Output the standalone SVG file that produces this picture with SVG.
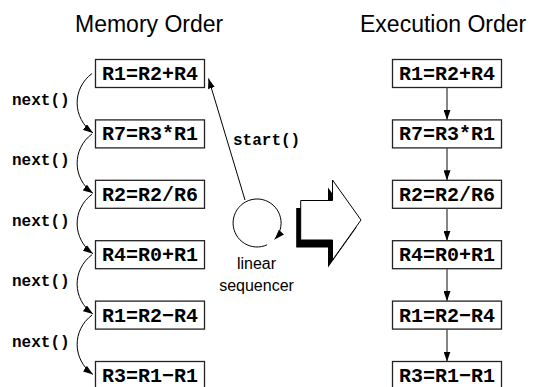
<svg xmlns="http://www.w3.org/2000/svg" width="535" height="387" viewBox="0 0 535 387">
  <defs>
    <style>
      .box { fill: #fff; stroke: #222; stroke-width: 1.3; }
      .code { font-family: "Liberation Mono", "DejaVu Sans Mono", monospace; font-weight: bold; font-size: 20px; fill: #000; text-anchor: middle; }
      .lbl { font-family: "Liberation Mono", "DejaVu Sans Mono", monospace; font-weight: bold; font-size: 16px; fill: #000; }
      .title { font-family: "Liberation Sans", Arial, sans-serif; font-size: 23px; fill: #000; }
      .sans { font-family: "Liberation Sans", Arial, sans-serif; font-size: 16px; fill: #000; text-anchor: middle; }
      .conn { fill: none; stroke: #000; stroke-width: 1; }
      .vconn { fill: none; stroke: #444; stroke-width: 1.3; }
    </style>
    <marker id="ah" viewBox="0 0 10 7" refX="10" refY="3.5" markerWidth="10" markerHeight="7" orient="auto" markerUnits="userSpaceOnUse">
      <path d="M0,0 L10,3.5 L0,7 z" fill="#000"/>
    </marker>
  </defs>
  <rect width="535" height="387" fill="#fff"/>

  <g id="titles">
    <text class="title" x="75" y="32">Memory Order</text>
    <text class="title" x="360" y="32">Execution Order</text>
  </g>

  <!-- Memory order column -->
  <g id="m1"><rect class="box" x="95.5" y="59.5" width="109" height="28"/><text class="code" x="150" y="80">R1=R2+R4</text></g>
  <g id="m2"><rect class="box" x="95.5" y="119.9" width="109" height="28"/><text class="code" x="150" y="140.4">R7=R3*R1</text></g>
  <g id="m3"><rect class="box" x="95.5" y="180.3" width="109" height="28"/><text class="code" x="150" y="200.8">R2=R2/R6</text></g>
  <g id="m4"><rect class="box" x="95.5" y="240.7" width="109" height="28"/><text class="code" x="150" y="261.2">R4=R0+R1</text></g>
  <g id="m5"><rect class="box" x="95.5" y="301.1" width="109" height="28"/><text class="code" x="150" y="321.6">R1=R2−R4</text></g>
  <g id="m6"><rect class="box" x="95.5" y="361.5" width="109" height="28"/><text class="code" x="150" y="382">R3=R1−R1</text></g>

  <!-- Execution order column -->
  <g id="e1"><rect class="box" x="392.5" y="59.5" width="109" height="28"/><text class="code" x="447" y="80">R1=R2+R4</text></g>
  <g id="e2"><rect class="box" x="392.5" y="119.9" width="109" height="28"/><text class="code" x="447" y="140.4">R7=R3*R1</text></g>
  <g id="e3"><rect class="box" x="392.5" y="180.3" width="109" height="28"/><text class="code" x="447" y="200.8">R2=R2/R6</text></g>
  <g id="e4"><rect class="box" x="392.5" y="240.7" width="109" height="28"/><text class="code" x="447" y="261.2">R4=R0+R1</text></g>
  <g id="e5"><rect class="box" x="392.5" y="301.1" width="109" height="28"/><text class="code" x="447" y="321.6">R1=R2−R4</text></g>
  <g id="e6"><rect class="box" x="392.5" y="361.5" width="109" height="28"/><text class="code" x="447" y="382">R3=R1−R1</text></g>

  <!-- Linear sequencer -->
  <g id="sequencer">
    <path class="conn" d="M267.1,244.8 A24,24 0 1 1 274.6,239.4" marker-end="url(#ah)"/>
    <text class="sans" x="256.5" y="269">linear</text>
    <text class="sans" x="256.5" y="291">sequencer</text>
  </g>

  <!-- Block arrow -->
  <g id="block-arrow">
    <polygon points="296.2,208 328,208 328,187.5 356.5,227.5 328,267.5 328,247.5 296.2,247.5" fill="#000"/>
    <polygon points="300.7,200.5 332.5,200.5 332.5,180 361,220 332.5,260 332.5,240 300.7,240" fill="#fff" stroke="#000" stroke-width="1"/>
  </g>

  <g id="connectors">
    <path class="conn" d="M92,73.5 C72,88.5 72,117.9 93,132.9" marker-end="url(#ah)"/>
    <path class="conn" d="M92,133.9 C72,148.9 72,178.3 93,193.3" marker-end="url(#ah)"/>
    <path class="conn" d="M92,194.3 C72,209.3 72,238.7 93,253.7" marker-end="url(#ah)"/>
    <path class="conn" d="M92,254.7 C72,269.7 72,299.1 93,314.1" marker-end="url(#ah)"/>
    <path class="conn" d="M92,315.1 C72,330.1 72,359.5 93,374.5" marker-end="url(#ah)"/>
    <text class="lbl" x="12" y="105">next()</text>
    <text class="lbl" x="12" y="165.4">next()</text>
    <text class="lbl" x="12" y="225.8">next()</text>
    <text class="lbl" x="12" y="286.2">next()</text>
    <text class="lbl" x="12" y="346.6">next()</text>

    <path class="conn" d="M245,200 L208.5,78.5" marker-end="url(#ah)"/>
    <text class="lbl" x="233" y="145">start()</text>

    <path class="vconn" d="M447,87.5 V119.9" marker-end="url(#ah)"/>
    <path class="vconn" d="M447,147.9 V180.3" marker-end="url(#ah)"/>
    <path class="vconn" d="M447,208.3 V240.7" marker-end="url(#ah)"/>
    <path class="vconn" d="M447,268.7 V301.1" marker-end="url(#ah)"/>
    <path class="vconn" d="M447,329.1 V361.5" marker-end="url(#ah)"/>
  </g>
</svg>
